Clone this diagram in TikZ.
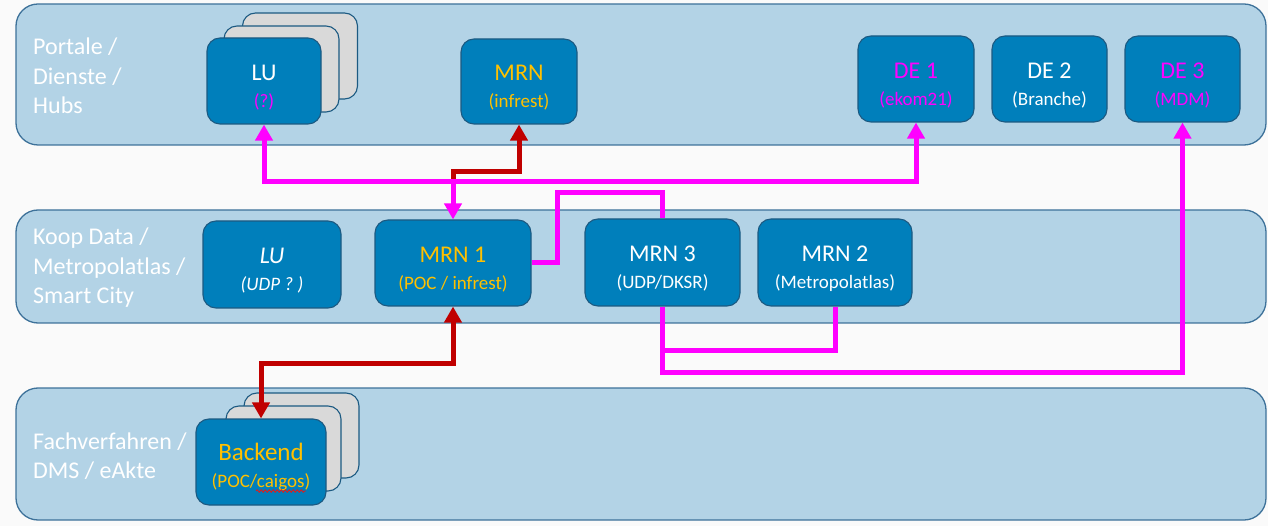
\documentclass[tikz,border=0pt]{standalone}
\usepackage{fontspec}
\setmainfont{Carlito}
\usetikzlibrary{arrows.meta,decorations.pathmorphing}
\definecolor{bgc}{RGB}{250,250,250}
\definecolor{panelfill}{RGB}{179,211,230}
\definecolor{panelline}{RGB}{62,114,154}
\definecolor{boxfill}{RGB}{0,127,187}
\definecolor{boxline}{RGB}{28,90,130}
\definecolor{grayfill}{RGB}{217,217,217}
\definecolor{yel}{RGB}{255,192,0}
\definecolor{mag}{RGB}{255,0,255}
\definecolor{redc}{RGB}{192,0,0}
\definecolor{spell}{RGB}{220,30,30}
\newcommand\bxtitle{\fontsize{24}{27}\selectfont}
\newcommand\bxsubt{\fontsize{19}{27}\selectfont}
\newcommand\lbl{\fontsize{24}{29.5}\selectfont}
\begin{document}
\begin{tikzpicture}[x=1pt,y=-1pt,
  panel/.style={draw=panelline,line width=1.3pt,fill=panelfill,rounded corners=22pt,inner sep=0pt},
  bx/.style={draw=boxline,line width=1.1pt,fill=boxfill,rounded corners=13pt,inner sep=0pt,
    minimum width=116pt,minimum height=86pt,align=center,text=white,font=\bxtitle,
    execute at begin node={\rule{0pt}{55pt}}},
  graybx/.style={draw=boxline,line width=1.1pt,fill=grayfill,rounded corners=13pt,inner sep=0pt,
    minimum width=115pt,minimum height=86pt},
  lab/.style={anchor=west,align=left,text=white,font=\lbl,inner sep=0pt},
  magl/.style={draw=mag,line width=5pt},
  redl/.style={draw=redc,line width=5pt},
  ctip/.tip={Triangle[width=17pt,length=16pt]}
]
\useasboundingbox (0,0) rectangle (1268,526);
\fill[bgc] (0,0) rectangle (1268,526);

% panels
\node[panel,minimum width=1250pt,minimum height=141pt] (p1) at (641,74.5) {};
\node[panel,minimum width=1250pt,minimum height=113pt] (p2) at (641,266.5) {};
\node[panel,minimum width=1250pt,minimum height=132pt] (p3) at (641,454) {};

% panel labels
\node[lab] (l1) at (33,76) {Portale /\\Dienste /\\Hubs};
\node[lab] (l2) at (33,268) {Koop Data /\\Metropolatlas /\\Smart City};
\node[lab] (l3) at (33,456) {Fachverfahren /\\DMS / eAkte};

% top row
\node[graybx] (lug3) at (300,56) {};
\node[graybx] (lug2) at (281.5,69) {};
\node[bx,minimum width=114pt] (lu1) at (264,81) {LU\\{\bxsubt\color{mag}(?)}};
\node[bx,minimum height=85pt] (mrn) at (519,81.5) {\color{yel}MRN\\{\bxsubt\color{yel}(infrest)}};
\node[bx] (de1) at (916,79) {\color{mag}DE 1\\{\bxsubt\color{mag}(ekom21)}};
\node[bx,minimum width=115pt] (de2) at (1049.5,79) {DE 2\\{\bxsubt(Branche)}};
\node[bx,minimum width=115pt] (de3) at (1182.5,79) {\color{mag}DE 3\\{\bxsubt\color{mag}(MDM)}};

% middle row
\node[bx,minimum width=138pt,minimum height=87pt] (lu2) at (272,264.5) {\itshape LU\\{\bxsubt\itshape (UDP ? )}};
\node[bx,minimum width=156pt] (mrn1) at (453,263) {\color{yel}MRN 1\\{\bxsubt\color{yel}(POC / infrest)}};
\node[bx,minimum width=155pt,minimum height=87pt] (mrn3) at (662.5,262.5) {MRN 3\\{\bxsubt(UDP/DKSR)}};
\node[bx,minimum width=154pt,minimum height=87pt] (mrn2) at (835,262.5) {MRN 2\\{\bxsubt(Metropolatlas)}};

% bottom row
\node[graybx,minimum height=85pt] (beg3) at (301.5,435.5) {};
\node[graybx,minimum height=85pt] (beg2) at (283.5,448.5) {};
\node[bx,minimum width=130pt,execute at begin node={\rule{0pt}{44pt}}] (be) at (261,462) {{\fontsize{25}{27}\selectfont\color{yel}Backend}\\{\fontsize{19}{27}\selectfont\color{yel}(POC/caigos)}};
\draw[spell,line width=0.9pt,decorate,decoration={snake,amplitude=1.2pt,segment length=4pt}] (256,491) -- (306,491);

% red connectors (under magenta)
\draw[redl,-{ctip}] (mrn1.north |- 0,185) |- (mrn.south |- 0,172) -- (mrn.south);
\draw[redl,{ctip}-{ctip}] (mrn1.south) |- (be.north |- 0,363) -- (be.north);

% magenta connectors
\draw[magl,{ctip}-{ctip}] (lu1.south) |- (de1.south |- 0,182) -- (de1.south);
\draw[magl,-{ctip}] (mrn1.north |- 0,182) -- (mrn1.north);
\coordinate (c1) at (557,193);
\draw[magl] (mrn1.east) -| (c1) -| (mrn3.north);
\draw[magl,-{ctip}] (mrn3.south) |- (de3.south |- 0,372) -- (de3.south);
\draw[magl] (mrn2.south) |- (mrn3.south |- 0,350);
\end{tikzpicture}
\end{document}
